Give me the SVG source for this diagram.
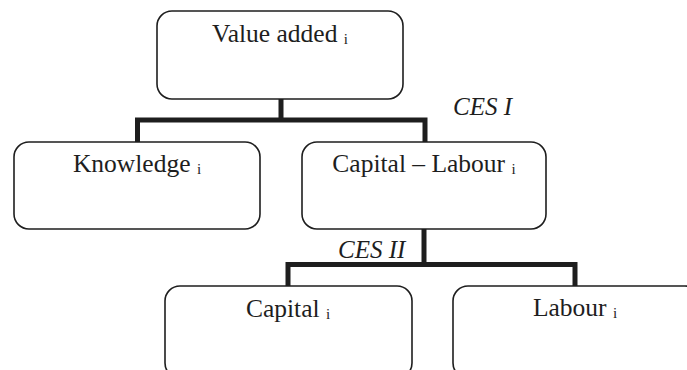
<svg xmlns="http://www.w3.org/2000/svg" width="687" height="370" viewBox="0 0 687 370">
<style>
.box{fill:#fff;stroke:#1e1e1e;stroke-width:1.6}
.lbl{font-family:"Liberation Serif","Times New Roman",serif;font-size:25.5px;fill:#1e1e1e;text-anchor:middle}
.sub{font-size:15px}
.ces{font-family:"Liberation Serif","Times New Roman",serif;font-size:25px;font-style:italic;fill:#1e1e1e}
.conn{fill:none;stroke:#1e1e1e;stroke-width:5;stroke-linejoin:miter;stroke-linecap:butt}
</style>
<rect width="687" height="370" fill="#fff"/>
<g id="connectors">
<path class="conn" d="M281 99 V120 M137.5 142 V120 H425 V142"/>
<path class="conn" d="M424 229 V264.5 M288 286 V264.5 H575 V286"/>
<text class="ces" x="453" y="115">CES I</text>
<text class="ces" x="338" y="258">CES II</text>
</g>
<g id="value-added">
<rect class="box" x="157" y="11" width="246" height="88" rx="15"/>
<text class="lbl" x="280" y="42">Value added <tspan class="sub" dy="2">i</tspan></text>
</g>
<g id="knowledge">
<rect class="box" x="14" y="142" width="246" height="87" rx="15"/>
<text class="lbl" x="137" y="172">Knowledge <tspan class="sub" dy="2">i</tspan></text>
</g>
<g id="capital-labour">
<rect class="box" x="302" y="142" width="244" height="87" rx="15"/>
<text class="lbl" x="424" y="172">Capital – Labour <tspan class="sub" dy="2">i</tspan></text>
</g>
<g id="capital">
<rect class="box" x="165" y="286" width="247" height="92" rx="15"/>
<text class="lbl" x="288" y="317">Capital <tspan class="sub" dy="2">i</tspan></text>
</g>
<g id="labour">
<rect class="box" x="453" y="286" width="247" height="92" rx="15"/>
<text class="lbl" x="575" y="316">Labour <tspan class="sub" dy="2">i</tspan></text>
</g>
</svg>
